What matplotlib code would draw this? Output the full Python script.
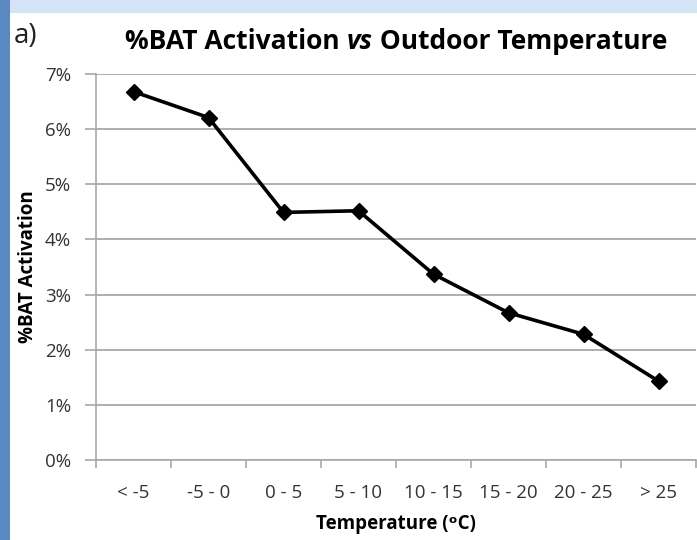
import matplotlib
matplotlib.use("Agg")
import matplotlib.pyplot as plt
from matplotlib.patches import Rectangle
from matplotlib.ticker import FixedLocator, PercentFormatter

categories = ["< -5", "-5 - 0", "0 - 5", "5 - 10", "10 - 15", "15 - 20", "20 - 25", "> 25"]
bat_activation = [6.68, 6.21, 4.49, 4.52, 3.37, 2.67, 2.28, 1.43]  # percent
yticks = [0, 1, 2, 3, 4, 5, 6, 7]

plt.rcParams['font.family'] = ['Open Sans', 'DejaVu Sans']

fig = plt.figure(figsize=(6.97, 5.4), dpi=100)
fig.patch.set_facecolor('#d4e4f4')
# white slide panel and blue strip on the left
fig.patches.append(Rectangle((0, 0), 10/697, 1, transform=fig.transFigure,
                             facecolor='#5a88c0', edgecolor='none', zorder=-2))
fig.patches.append(Rectangle((10/697, 0), 1, 1 - 13/540, transform=fig.transFigure,
                             facecolor='white', edgecolor='none', zorder=-1))

ax = fig.add_axes([96/697, 1 - 460/540, 600/697, 386/540])
ax.set_facecolor('none')
x = list(range(len(categories)))
ax.plot(x, bat_activation, color='black', lw=2.6, marker='D', ms=8.5, zorder=3, clip_on=False)

ax.set_xlim(-0.5, len(categories) - 0.5)
ax.set_ylim(0, 7)
ax.yaxis.set_major_locator(FixedLocator(yticks))
ax.yaxis.set_major_formatter(PercentFormatter(decimals=0))
ax.grid(axis='y', color='#a8a8a8', lw=1.3)
ax.set_axisbelow(True)

# category boundary ticks, labels centred between them
ax.xaxis.set_major_locator(FixedLocator([i - 0.5 for i in range(len(categories) + 1)]))
ax.xaxis.set_minor_locator(FixedLocator(x))
ax.set_xticklabels([''] * (len(categories) + 1))
ax.set_xticklabels(categories, minor=True)
ax.tick_params(axis='x', which='major', length=6, width=1.2, color='#a8a8a8')
ax.tick_params(axis='x', which='minor', length=0, pad=17, labelsize=13.5, labelcolor='#333333')
ax.tick_params(axis='y', length=8, width=1.2, color='#a8a8a8', pad=10, labelsize=13.5, labelcolor='#333333')

for s in ['top', 'right']:
    ax.spines[s].set_visible(False)
for s in ['left', 'bottom']:
    ax.spines[s].set_color('#a8a8a8')
    ax.spines[s].set_linewidth(1.2)

ax.set_ylabel('%BAT Activation', fontsize=13.5, fontweight='bold')
ax.set_xlabel('Temperature (ᵒC)', fontsize=13.5, fontweight='bold', labelpad=9)
ax.yaxis.set_label_coords(-58/600, 0.5)

# title with italic "vs"
fig.canvas.draw()
r = fig.canvas.get_renderer()
parts = [('%BAT Activation ', 'normal'), ('vs', 'italic'), (' Outdoor Temperature', 'normal')]
texts = [fig.text(0, 0, p, fontsize=19, fontweight='bold', style=st, va='center')
         for p, st in parts]
widths = [t.get_window_extent(r).width for t in texts]
xpos = 396 - sum(widths) / 2
for t, w in zip(texts, widths):
    t.set_position((xpos / 697, 1 - 42 / 540))
    xpos += w

fig.text(14/697, 1 - 36/540, 'a)', fontsize=20, color='#222222', va='center')

fig.savefig('out.png', dpi=100, facecolor=fig.get_facecolor())
